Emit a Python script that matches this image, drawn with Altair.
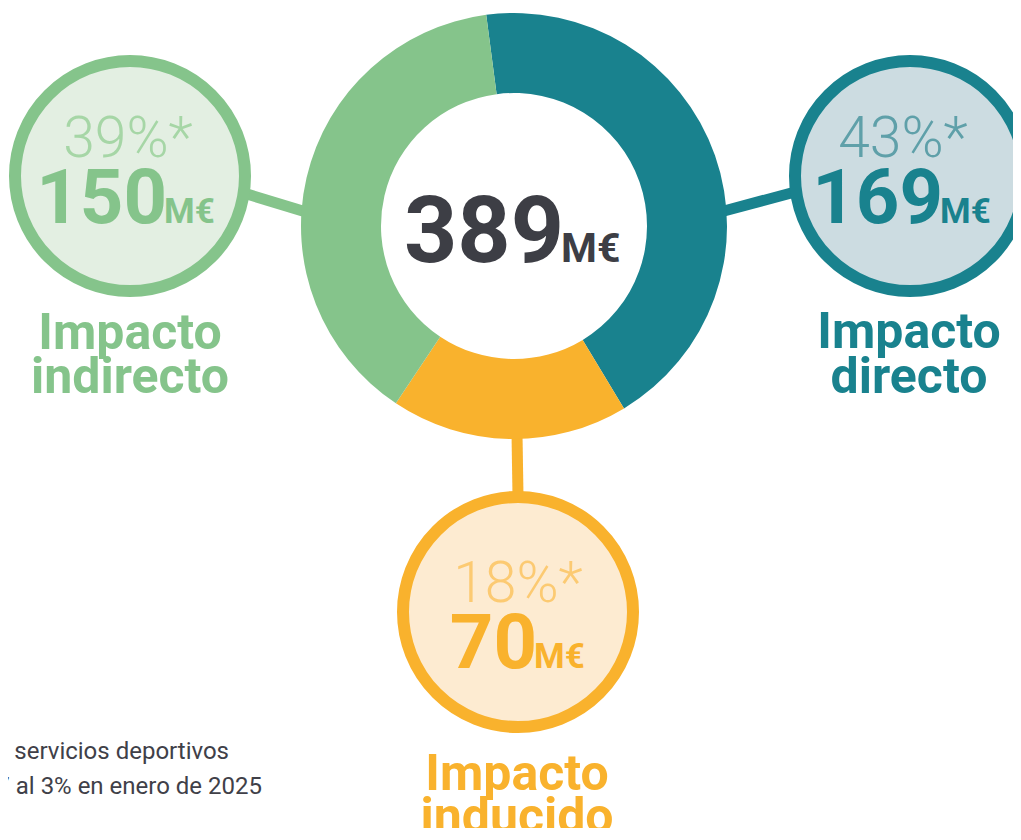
import math
import altair as alt
import pandas as pd

# ---------------- data ----------------
categories = ["Impacto directo", "Impacto inducido", "Impacto indirecto"]
values = [169, 70, 150]
label_line1 = ["Impacto", "Impacto", "Impacto"]
label_line2 = ["directo", "inducido", "indirecto"]
unit = "M€"
footnote_lines = [
    "*Porcentaje sobre el impacto económico total de los servicios deportivos",
    "**Variación del IPC del 2,7 al 3% en enero de 2025",
]

total = sum(values)
pcts = [f"{round(v / total * 100)}%*" for v in values]

# ---------------- styles ----------------
ring_colors = ["#19828E", "#F9B22D", "#85C48B"]
bubble_fills = ["#CCDCE1", "#FDEBD1", "#E3EFE2"]
pct_colors = ["#5FA0A9", "#FCCA72", "#A6D6A6"]
dark = "#3D3E45"
FONT = "Roboto"

# ---------------- layout (page pixel coordinates) ----------------
W, H = 1005, 820
X0, Y0 = 8, 8
donut_cx, donut_cy = 514, 226
R_OUT, R_IN = 213, 133
start_angle = 2 * math.pi - math.radians(7.5)

bubble_cx = [910, 518, 130]
bubble_cy = [176, 612, 176]
conn_x1 = [724, 517, 247]
conn_y1 = [211, 434, 194]
conn_x2 = [795, 518, 306]
conn_y2 = [192, 496, 212]
pct_x = [903, 518, 128]
pct_y = [157, 602, 157]
split_x = [938, 532, 162]
val_y = [223, 668, 223]
lab_x = [909, 517, 130]
lab_y1 = [348, 790, 349]
lab_y2 = [393, 833, 393]

df = pd.DataFrame({
    "cat": categories,
    "value": values,
    "ord": list(range(len(categories))),
    "pct": pcts,
    "num": [str(v) for v in values],
    "unit": [unit] * 3,
    "l1": label_line1,
    "l2": label_line2,
    "ring": ring_colors,
    "fill": bubble_fills,
    "pctc": pct_colors,
    "bx": bubble_cx, "by": bubble_cy,
    "x1": conn_x1, "y1": conn_y1, "x2": conn_x2, "y2": conn_y2,
    "px": pct_x, "py": pct_y,
    "sx": [s + 5 for s in split_x], "ux": [s + 2 for s in split_x], "vy": val_y,
    "lx": lab_x, "ly1": lab_y1, "ly2": lab_y2,
})

xs = alt.Scale(domain=[X0, X0 + W], nice=False, zero=False)
ys = alt.Scale(domain=[Y0 + H, Y0], nice=False, zero=False)


def X(f):
    return alt.X(f, type="quantitative", scale=xs, axis=None)


def Y(f):
    return alt.Y(f, type="quantitative", scale=ys, axis=None)


base = alt.Chart(df)

connectors = base.mark_rule(strokeWidth=11, strokeCap="butt").encode(
    x=X("x1"), y=Y("y1"), x2="x2:Q", y2="y2:Q",
    color=alt.Color("ring:N", scale=None),
)

donut = base.mark_arc(outerRadius=R_OUT, innerRadius=R_IN, stroke=None).encode(
    theta=alt.Theta("value:Q", stack=True,
                    scale=alt.Scale(range=[start_angle, start_angle + 2 * math.pi])),
    order=alt.Order("ord:Q"),
    color=alt.Color("ring:N", scale=None),
    x=alt.XDatum(donut_cx, scale=xs, axis=None),
    y=alt.YDatum(donut_cy, scale=ys, axis=None),
)

center_df = pd.DataFrame({"t": [str(total)], "u": [unit]})
center_num = alt.Chart(center_df).mark_text(
    font=FONT, fontWeight="bold", fontSize=93, align="right", baseline="alphabetic", color=dark
).encode(text="t:N", x=alt.XDatum(564, scale=xs, axis=None), y=alt.YDatum(262, scale=ys, axis=None))
center_unit = alt.Chart(center_df).mark_text(
    font=FONT, fontWeight="bold", fontSize=41, align="left", baseline="alphabetic", color=dark
).encode(text="u:N", x=alt.XDatum(561, scale=xs, axis=None), y=alt.YDatum(262, scale=ys, axis=None))

bubbles = base.mark_circle(size=230 * 230, strokeWidth=12, opacity=1, fillOpacity=1, strokeOpacity=1).encode(
    x=X("bx"), y=Y("by"),
    fill=alt.Fill("fill:N", scale=None),
    stroke=alt.Stroke("ring:N", scale=None),
)

pct_text = base.mark_text(font=FONT, fontWeight=300, fontSize=57, align="center", baseline="alphabetic").encode(
    x=X("px"), y=Y("py"), text="pct:N", color=alt.Color("pctc:N", scale=None)
)
num_text = base.mark_text(font=FONT, fontWeight="bold", fontSize=76, align="right", baseline="alphabetic").encode(
    x=X("sx"), y=Y("vy"), text="num:N", color=alt.Color("ring:N", scale=None)
)
unit_text = base.mark_text(font=FONT, fontWeight="bold", fontSize=35, align="left", baseline="alphabetic").encode(
    x=X("ux"), y=Y("vy"), text="unit:N", color=alt.Color("ring:N", scale=None)
)
lab1 = base.mark_text(font=FONT, fontWeight="bold", fontSize=50, align="center", baseline="alphabetic").encode(
    x=X("lx"), y=Y("ly1"), text="l1:N", color=alt.Color("ring:N", scale=None)
)
lab2 = base.mark_text(font=FONT, fontWeight="bold", fontSize=50, align="center", baseline="alphabetic").encode(
    x=X("lx"), y=Y("ly2"), text="l2:N", color=alt.Color("ring:N", scale=None)
)

foot_df = pd.DataFrame({"t": footnote_lines, "x": [229, 262], "y": [759, 794]})
foot = alt.Chart(foot_df).mark_text(
    font=FONT, fontSize=24, align="right", baseline="alphabetic", color="#404048"
).encode(x=X("x"), y=Y("y"), text="t:N")

chart = alt.layer(
    connectors, donut, bubbles, center_num, center_unit,
    pct_text, num_text, unit_text, lab1, lab2, foot,
).properties(
    width=W, height=H, padding=0, autosize=alt.AutoSizeParams(type="none"),
    background="white",
).configure_view(stroke=None)

chart.save("out.html", embed_options={"renderer": "svg", "actions": False})
